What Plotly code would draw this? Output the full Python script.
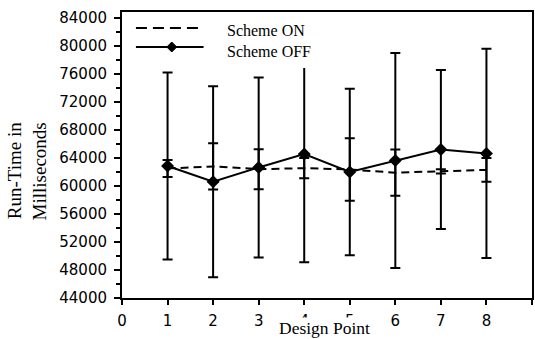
import plotly.graph_objects as go

design_points = [1, 2, 3, 4, 5, 6, 7, 8]
scheme_on = [62500, 62800, 62400, 62550, 62350, 61900, 62100, 62300]
scheme_on_err = [1200, 3300, 2850, 1450, 4450, 3300, 300, 1700]
scheme_off = [62850, 60600, 62650, 64550, 62000, 63650, 65200, 64650]
scheme_off_err = [13350, 13650, 12850, 15450, 11900, 15350, 11350, 14950]
x_ticks = [0, 1, 2, 3, 4, 5, 6, 7, 8, 9]
y_ticks = list(range(44000, 84001, 4000))
legend_labels = ["Scheme ON", "Scheme OFF"]

SERIF = "Liberation Serif, Times New Roman, serif"
SANS = "DejaVu Sans, Arial, sans-serif"

W, H = 535, 339
ML, MR, MT, MB = 122, 1, 12, 41
PW, PH = W - ML - MR, H - MT - MB


def px(xp):
    return (xp - ML) / PW


def py(yp):
    return (H - MB - yp) / PH


fig = go.Figure()
fig.add_trace(go.Scatter(
    x=design_points, y=scheme_on, name=legend_labels[0], mode="lines",
    line=dict(color="black", width=2, dash="8px,5px"),
    error_y=dict(type="data", array=scheme_on_err, symmetric=True,
                 color="black", thickness=2, width=5),
    showlegend=False,
))
fig.add_trace(go.Scatter(
    x=design_points, y=scheme_off, name=legend_labels[1], mode="lines+markers",
    line=dict(color="black", width=2),
    marker=dict(symbol="diamond", size=10, color="black"),
    error_y=dict(type="data", array=scheme_off_err, symmetric=True,
                 color="black", thickness=2, width=5),
    showlegend=False,
))

LY_ON, LY_OFF = 28, 47

# legend box (white, occludes what lies under it, as in the reference)
shapes = [
    dict(type="rect", xref="paper", yref="paper", layer="above",
         x0=px(127), x1=px(324), y0=py(68), y1=py(14),
         fillcolor="white", line=dict(width=0)),
    dict(type="line", xref="paper", yref="paper", layer="above",
         x0=px(136), x1=px(204), y0=py(LY_ON), y1=py(LY_ON),
         line=dict(color="black", width=2, dash="11px,6px")),
    dict(type="line", xref="paper", yref="paper", layer="above",
         x0=px(136), x1=px(204), y0=py(LY_OFF), y1=py(LY_OFF),
         line=dict(color="black", width=2)),
    dict(type="path", xref="paper", yref="paper", layer="above",
         path=(f"M {px(172)},{py(LY_OFF - 5)} L {px(177)},{py(LY_OFF)} "
               f"L {px(172)},{py(LY_OFF + 5)} L {px(167)},{py(LY_OFF)} Z"),
         fillcolor="black", line=dict(color="black", width=1)),
]

fig.update_layout(
    width=W, height=H,
    margin=dict(l=ML, r=MR, t=MT, b=MB),
    paper_bgcolor="white", plot_bgcolor="white",
    showlegend=False,
    xaxis=dict(range=[0, 9], tickvals=x_ticks, ticks="outside", ticklen=5,
               tickwidth=2, tickcolor="black", showline=True, linewidth=2,
               linecolor="black", mirror=True, showgrid=False, zeroline=False,
               ticklabelstandoff=3,
               tickfont=dict(family=SANS, size=15, color="black")),
    yaxis=dict(range=[44000, 84850], tickvals=y_ticks, tickformat="d",
               ticks="outside",
               ticklen=6, tickwidth=2, tickcolor="black", showline=True,
               linewidth=2, linecolor="black", mirror=True, showgrid=False,
               zeroline=False, ticklabelstandoff=4,
               minor=dict(dtick=2000, tick0=44000, ticks="outside", ticklen=4,
                          tickwidth=1.5, tickcolor="black", showgrid=False),
               tickfont=dict(family=SANS, size=15, color="black")),
    shapes=shapes,
    annotations=[
        dict(text="<br>".join(legend_labels), xref="paper", yref="paper",
             x=px(226), y=py(41), xanchor="left", yanchor="middle",
             align="left", showarrow=False,
             font=dict(family=SERIF, size=16, color="black")),
        dict(text="Design Point", xref="paper", yref="paper", x=0.495,
             y=py(328), xanchor="center", yanchor="middle", showarrow=False,
             bgcolor="white", borderpad=0,
             font=dict(family=SERIF, size=17.5, color="black")),
        dict(text="Run-Time in<br>Milliseconds", xref="paper", yref="paper",
             x=px(27), y=py(171), xanchor="center", yanchor="middle",
             textangle=-90, align="right", showarrow=False,
             font=dict(family=SERIF, size=19, color="black")),
    ],
)

fig.write_html("out.html")
